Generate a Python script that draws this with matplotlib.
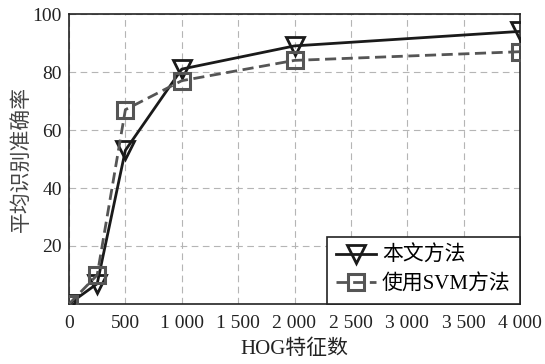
import matplotlib
matplotlib.use("Agg")
import matplotlib.pyplot as plt

plt.rcParams['font.family'] = ['Liberation Serif', 'Noto Sans CJK SC', 'DejaVu Sans']

x_vals = [0, 250, 500, 1000, 2000, 4000]
ours = [0, 7, 53, 81, 89, 94]
svm = [0, 10, 67, 77, 84, 87]
series_names = ['本文方法', '使用SVM方法']
xticks = [0, 500, 1000, 1500, 2000, 2500, 3000, 3500, 4000]
xtick_labels = ['0', '500', '1 000', '1 500', '2 000', '2 500', '3 000', '3 500', '4 000']
yticks = [20, 40, 60, 80, 100]
xlabel = 'HOG特征数'
ylabel = '平均识别准确率'

fig = plt.figure(figsize=(5.45, 3.64), dpi=100)
ax = fig.add_axes([69/545, 60/364, 451/545, 290/364])

ax.plot(x_vals, ours, color='#1a1a1a', lw=2.0, marker='v', markersize=13,
        markerfacecolor='none', markeredgecolor='#1a1a1a', markeredgewidth=2.0,
        label=series_names[0], zorder=3)
ax.plot(x_vals, svm, color='#555555', lw=2.0, ls=(0, (4, 2)), marker='s', markersize=11,
        markerfacecolor='none', markeredgecolor='#555555', markeredgewidth=2.2,
        label=series_names[1], zorder=3)

ax.set_xlim(0, 4000)
ax.set_ylim(0, 100)
ax.set_xticks(xticks)
ax.set_xticklabels(xtick_labels)
ax.set_yticks(yticks)
ax.tick_params(axis='both', length=0, labelsize=14, colors='#222222')
ax.tick_params(axis='x', pad=8)
ax.tick_params(axis='y', pad=5)
ax.grid(True, color='#b5b5b5', ls=(0, (6, 4)), lw=0.8)
for s in ax.spines.values():
    s.set_color('#222222')
    s.set_linewidth(1.2)
ax.set_axisbelow(True)

ax.set_xlabel(xlabel, fontsize=15, color='#222222', labelpad=5)
ax.set_ylabel(ylabel, fontsize=15, color='#444444', labelpad=1)

leg = ax.legend(loc='lower right', fontsize=15, frameon=True, fancybox=False,
                edgecolor='#222222', framealpha=1, borderaxespad=0,
                handlelength=1.9, handletextpad=0.3, borderpad=0.45, labelspacing=0.4)
leg.get_frame().set_linewidth(1.2)

fig.savefig('out.png', dpi=100)
